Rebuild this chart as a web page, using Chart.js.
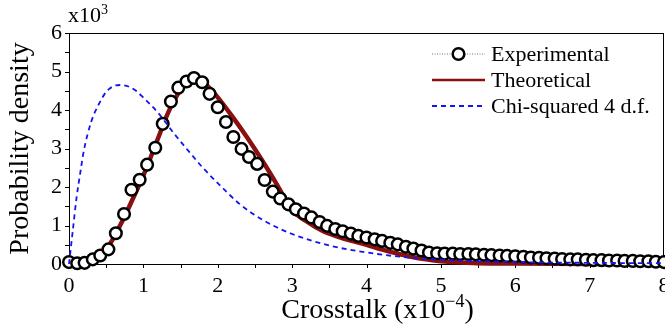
<!DOCTYPE html>
<html>
<head>
<meta charset="utf-8">
<script src="https://cdn.jsdelivr.net/npm/chart.js@4/dist/chart.umd.min.js"></script>
<style>
  html, body { margin: 0; padding: 0; background: #fff; }
</style>
</head>
<body>
<canvas id="crosstalk-chart" width="665" height="325"></canvas>
<script>
const FONT = '"Liberation Serif", "Times New Roman", serif'

// Experimental histogram (x in 1e-4, y in 1e3)
const expX = [0.00, 0.11, 0.21, 0.32, 0.42, 0.53, 0.63, 0.74, 0.84, 0.95, 1.05, 1.16, 1.26, 1.37, 1.47, 1.58, 1.68, 1.79, 1.89, 2.00,
  2.11, 2.21, 2.32, 2.42, 2.53, 2.63, 2.74, 2.84, 2.95, 3.05, 3.16, 3.26, 3.37, 3.47, 3.58, 3.68, 3.79, 3.89, 4.00, 4.11,
  4.21, 4.32, 4.42, 4.53, 4.63, 4.74, 4.84, 4.95, 5.05, 5.16, 5.26, 5.37, 5.47, 5.58, 5.68, 5.79, 5.89, 6.00, 6.11, 6.21,
  6.32, 6.42, 6.53, 6.63, 6.74, 6.84, 6.95, 7.05, 7.16, 7.26, 7.37, 7.47, 7.58, 7.68, 7.79, 7.89, 8.00]
const expY = [0.05, 0.02, 0.03, 0.12, 0.22, 0.38, 0.80, 1.30, 1.93, 2.19, 2.58, 3.02, 3.64, 4.22, 4.58, 4.74, 4.83, 4.72, 4.42, 4.07,
  3.69, 3.30, 2.99, 2.78, 2.60, 2.18, 1.88, 1.70, 1.55, 1.42, 1.31, 1.21, 1.09, 0.99, 0.91, 0.85, 0.79, 0.73, 0.69, 0.64,
  0.60, 0.55, 0.51, 0.45, 0.40, 0.35, 0.30, 0.28, 0.27, 0.27, 0.26, 0.26, 0.25, 0.24, 0.23, 0.22, 0.21, 0.20, 0.19, 0.17,
  0.16, 0.15, 0.14, 0.13, 0.12, 0.12, 0.11, 0.10, 0.10, 0.09, 0.09, 0.08, 0.08, 0.07, 0.07, 0.06, 0.05]

const theoX = [0, 0.2, 0.3, 0.4, 0.5, 0.6, 0.7, 0.8, 0.9, 1.0, 1.1, 1.2, 1.3, 1.4, 1.5, 1.6, 1.7, 1.8, 1.9, 2.0,
  2.2, 2.4, 2.6, 2.8, 3.0, 3.2, 3.4, 3.6, 3.8, 4.0, 4.2, 4.4, 4.6, 4.8, 5.0, 5.5, 6.0, 7.0, 8.0]
const theoY = [0, 0.02, 0.06, 0.18, 0.38, 0.68, 1.05, 1.45, 1.87, 2.30, 2.78, 3.28, 3.78, 4.20, 4.52, 4.72, 4.79, 4.72, 4.55, 4.33,
  3.82, 3.27, 2.68, 2.05, 1.40, 1.10, 0.87, 0.72, 0.60, 0.50, 0.38, 0.28, 0.19, 0.12, 0.07, 0.02, 0.01, 0, 0]

const chiX = [0, 0.05, 0.1, 0.15, 0.2, 0.3, 0.4, 0.5, 0.6, 0.7, 0.8, 0.9, 1.0, 1.2, 1.4, 1.6, 1.8, 2.0,
  2.3, 2.6, 3.0, 3.5, 4.0, 4.5, 5.0, 6.0, 7.0, 8.0]
const chiY = [0, 0.85, 1.70, 2.35, 2.95, 3.70, 4.15, 4.47, 4.62, 4.65, 4.61, 4.50, 4.32, 3.92, 3.42, 2.95, 2.50, 2.10,
  1.55, 1.15, 0.78, 0.48, 0.30, 0.18, 0.11, 0.05, 0.03, 0.02]

const xTicks = [0, 1, 2, 3, 4, 5, 6, 7, 8]
const yTicks = [0, 1, 2, 3, 4, 5, 6]

const toPoints = (xs, ys) => xs.map((x, i) => ({ x, y: ys[i] }))

// superscript helper: draws base text then a raised smaller part
const drawSup = (ctx, x, y, parts) => {
  parts.forEach(p => {
    ctx.font = p.size + 'px ' + FONT
    ctx.fillText(p.text, x, y - (p.rise || 0))
    x += ctx.measureText(p.text).width
  })
  return x
}
const supWidth = (ctx, parts) => parts.reduce((w, p) => {
  ctx.font = p.size + 'px ' + FONT
  return w + ctx.measureText(p.text).width
}, 0)

const framePlugin = {
  id: 'frame',
  beforeDatasetsDraw (chart) {
    const { ctx, chartArea: a, scales: { x, y } } = chart
    ctx.save()
    ctx.strokeStyle = '#000'
    ctx.lineWidth = 1
    ctx.strokeRect(a.left + 0.5, a.top + 0.5, a.right - a.left - 1, a.bottom - a.top)
    ctx.beginPath()
    for (let v = x.min; v <= x.max; v += 0.5) {
      const px = Math.round(x.getPixelForValue(v)) + 0.5
      ctx.moveTo(px, a.bottom)
      ctx.lineTo(px, a.bottom + 4)
    }
    for (let v = y.min; v <= y.max; v += 0.5) {
      const py = Math.round(y.getPixelForValue(v)) + 0.5
      ctx.moveTo(a.left, py)
      ctx.lineTo(a.left - 4, py)
    }
    ctx.stroke()
    // x tick labels (drawn here so the last label does not shrink the plot)
    ctx.fillStyle = '#000'
    ctx.font = '22px ' + FONT
    ctx.textAlign = 'center'
    ctx.textBaseline = 'alphabetic'
    xTicks.forEach(v => ctx.fillText(String(v), x.getPixelForValue(v), a.bottom + 28))
    ctx.restore()
  }
}

const textPlugin = {
  id: 'paperText',
  afterDraw (chart) {
    const { ctx, chartArea: a, data } = chart
    ctx.save()
    ctx.fillStyle = '#000'
    ctx.textBaseline = 'alphabetic'
    ctx.textAlign = 'left'

    // multiplier above the y axis
    drawSup(ctx, a.left - 1, 22, [{ text: 'x10', size: 22 }, { text: '3', size: 14, rise: 8 }])

    // x axis title with superscript exponent
    const xTitle = [{ text: 'Crosstalk (x10', size: 28 }, { text: '\u22124', size: 18, rise: 11 }, { text: ')', size: 28 }]
    const w = supWidth(ctx, xTitle)
    drawSup(ctx, (a.left + a.right) / 2 + 11 - w / 2, 318, xTitle)

    // legend
    const lx = 432
    const lw = 53
    data.datasets.forEach((ds, i) => {
      const ly = 54 + i * 26
      ctx.save()
      ctx.beginPath()
      ctx.moveTo(lx, ly)
      ctx.lineTo(lx + lw, ly)
      if (ds.legendMarker) {
        ctx.strokeStyle = '#555'
        ctx.lineWidth = 0.8
        ctx.setLineDash([1, 1.5])
        ctx.stroke()
        ctx.setLineDash([])
        ctx.beginPath()
        ctx.arc(lx + lw / 2, ly, ds.pointRadius, 0, Math.PI * 2)
        ctx.fillStyle = ds.pointBackgroundColor
        ctx.fill()
        ctx.lineWidth = ds.pointBorderWidth
        ctx.strokeStyle = ds.pointBorderColor
        ctx.stroke()
      } else {
        ctx.strokeStyle = ds.borderColor
        ctx.lineWidth = ds.legendWidth
        ctx.setLineDash(ds.borderDash || [])
        ctx.stroke()
      }
      ctx.restore()
      ctx.font = '22px ' + FONT
      ctx.fillText(ds.label, lx + lw + 6, ly + 7)
    })
    ctx.restore()
  }
}

const ctx = document.getElementById('crosstalk-chart').getContext('2d')

const chart = new Chart(ctx, {
  type: 'line',
  data: {
    datasets: [
      {
        label: 'Experimental',
        data: toPoints(expX, expY),
        showLine: false,
        legendMarker: true,
        pointRadius: 5.8,
        pointBorderWidth: 2.5,
        pointBorderColor: '#000',
        pointBackgroundColor: '#fff',
        borderColor: '#000',
        clip: false,
        order: 1
      },
      {
        label: 'Theoretical',
        data: toPoints(theoX, theoY),
        borderColor: '#8c0f0f',
        borderWidth: 4.5,
        legendWidth: 2.5,
        pointRadius: 0,
        cubicInterpolationMode: 'monotone',
        clip: false,
        order: 2
      },
      {
        label: 'Chi-squared 4 d.f.',
        data: toPoints(chiX, chiY),
        borderColor: '#1414f0',
        borderWidth: 1.8,
        legendWidth: 1.8,
        borderDash: [5, 4],
        pointRadius: 0,
        cubicInterpolationMode: 'monotone',
        clip: false,
        order: 0
      }
    ]
  },
  options: {
    responsive: false,
    animation: false,
    devicePixelRatio: 1,
    layout: { autoPadding: false, padding: { top: 33, right: 1, left: 0, bottom: 0 } },
    plugins: {
      legend: { display: false },
      tooltip: { enabled: false }
    },
    scales: {
      x: {
        type: 'linear',
        min: 0,
        max: 8,
        afterFit: (scale) => { scale.height = 61 },
        afterBuildTicks: (scale) => { scale.ticks = xTicks.map(v => ({ value: v })) },
        ticks: { display: false },
        grid: { display: false, drawTicks: false },
        border: { display: false }
      },
      y: {
        min: 0,
        max: 6,
        afterFit: (scale) => { scale.width = 69 },
        afterBuildTicks: (scale) => { scale.ticks = yTicks.map(v => ({ value: v })) },
        ticks: { color: '#000', font: { family: FONT, size: 22 }, padding: 7 },
        grid: { display: false, drawTicks: false },
        border: { display: false },
        title: {
          display: true,
          text: 'Probability density',
          color: '#000',
          font: { family: FONT, size: 28 },
          padding: { top: 4, bottom: 0 }
        }
      }
    }
  },
  plugins: [framePlugin, textPlugin]
})
</script>
</body>
</html>
